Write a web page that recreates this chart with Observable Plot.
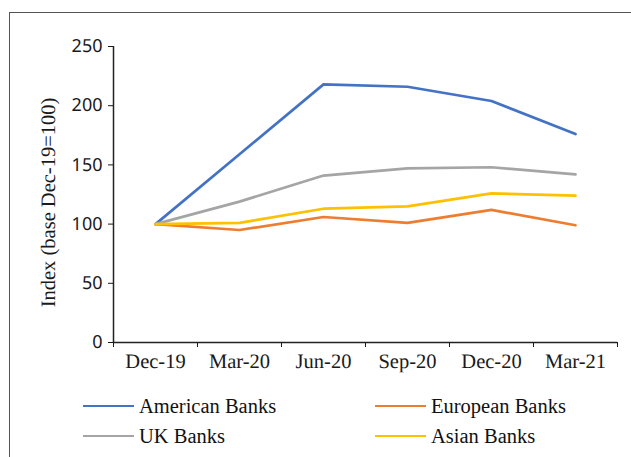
<!DOCTYPE html>
<html>
<head>
<meta charset="utf-8">
<script src="https://cdn.jsdelivr.net/npm/d3@7"></script>
<script src="https://cdn.jsdelivr.net/npm/@observablehq/plot@0.6"></script>
<style>
  html, body { margin: 0; padding: 0; background: #fff; }
  body { width: 631px; height: 457px; position: relative; overflow: hidden; }
  #frame { position: absolute; left: 9px; top: 12px; right: -5px; bottom: -5px;
           border-top: 1.5px solid #555; border-left: 1.5px solid #555; }
  #chart { position: absolute; left: 0; top: 0; }
  #chart svg text { text-rendering: geometricPrecision; }
  .leg { position: absolute; display: flex; align-items: center;
         font-family: "Liberation Serif", serif; font-size: 20.5px; color: #111; }
  .leg .sw { width: 51px; height: 2.5px; margin-right: 5px; }
</style>
</head>
<body>
<div id="frame"></div>
<div id="chart"></div>
<div id="legend"></div>
<script>
const categories = ["Dec-19", "Mar-20", "Jun-20", "Sep-20", "Dec-20", "Mar-21"];
const seriesNames = ["American Banks", "European Banks", "UK Banks", "Asian Banks"];
const american = [100, 159, 218, 216, 204, 176];
const european = [100, 95, 106, 101, 112, 99];
const uk = [100, 119, 141, 147, 148, 142];
const asian = [100, 101, 113, 115, 126, 124];
const colors = ["#4472C4", "#ED7D31", "#A5A5A5", "#FFC000"];
const yTicks = [0, 50, 100, 150, 200, 250];
const yTitle = "Index (base Dec-19=100)";

const seriesValues = [american, european, uk, asian];
const rows = [];
seriesValues.forEach((vals, s) => {
  vals.forEach((v, i) => rows.push({series: seriesNames[s], pos: i + 0.5, value: v}));
});
const boundaries = d3.range(categories.length + 1);
const centers = categories.map((c, i) => i + 0.5);

const serif = "Liberation Serif";
const chart = Plot.plot({
  width: 631,
  height: 384,
  marginLeft: 113,
  marginRight: 14,
  marginTop: 46,
  marginBottom: 42,
  style: {background: "transparent", color: "#1a1a1a"},
  x: {type: "linear", domain: [0, categories.length]},
  y: {domain: [0, 250]},
  color: {domain: seriesNames, range: colors},
  marks: [
    Plot.ruleX([0], {stroke: "#222", strokeWidth: 1.5}),
    Plot.ruleY([0], {stroke: "#222", strokeWidth: 1.5}),
    Plot.axisY({ticks: yTicks, tickSize: 5, tickPadding: 6,
      fontFamily: "Noto Sans", fontSize: 18, fontWeight: 400, label: null}),
    Plot.axisX({ticks: boundaries, tickSize: 5, tickFormat: () => "", label: null}),
    Plot.axisX({ticks: centers, tickSize: 0, tickPadding: 11, fontFamily: serif, fontSize: 20.5,
      fontWeight: 400, tickFormat: d => categories[Math.round(d - 0.5)], label: null}),
    Plot.text([yTitle], {text: d => d, frameAnchor: "left", rotate: -90, dx: -65, dy: 8,
      fontFamily: serif, fontSize: 20.5, fill: "#1a1a1a", textAnchor: "middle", lineAnchor: "middle"}),
    Plot.line(rows, {x: "pos", y: "value", z: "series", stroke: "series", strokeWidth: 2.7,
      strokeLinejoin: "round", strokeLinecap: "round"})
  ]
});
document.getElementById("chart").appendChild(chart);

const legendPos = [[83, 406], [375, 406], [83, 436], [375, 436]];
const legend = document.getElementById("legend");
seriesNames.forEach((name, i) => {
  const item = document.createElement("div");
  item.className = "leg";
  item.style.left = legendPos[i][0] + "px";
  item.style.top = (legendPos[i][1] - 13) + "px";
  item.style.height = "26px";
  const sw = document.createElement("div");
  sw.className = "sw";
  sw.style.background = colors[i];
  const t = document.createElement("span");
  t.textContent = name;
  item.appendChild(sw);
  item.appendChild(t);
  legend.appendChild(item);
});
</script>
</body>
</html>
